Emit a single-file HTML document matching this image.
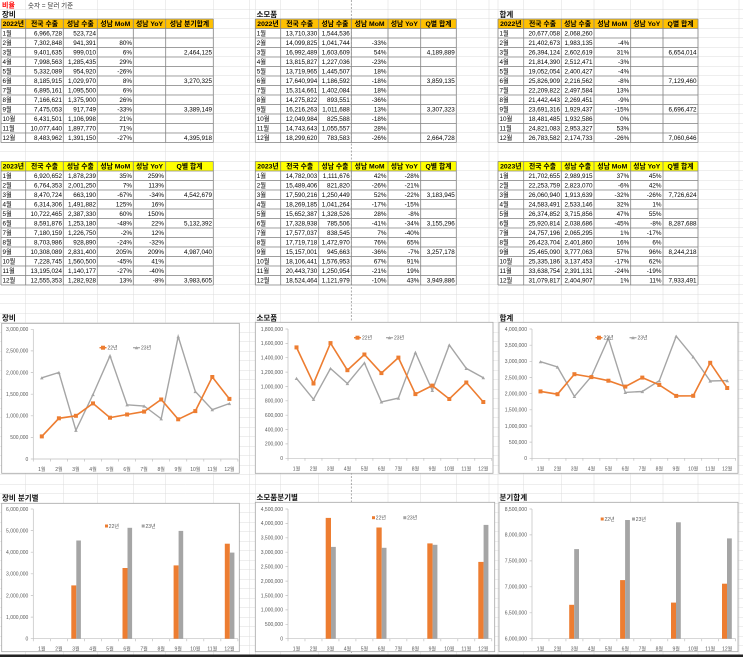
<!DOCTYPE html>
<html><head><meta charset="utf-8">
<style>
html,body{margin:0;padding:0;background:#fff;}
svg{display:block}
svg text{font-family:"Liberation Sans","Noto Sans CJK KR",sans-serif;}
.t text{font-size:6.3px;fill:#000}
.r{text-anchor:end}
.l{text-anchor:start}
.c{text-anchor:middle}
.hd text{font-weight:bold;font-size:6.8px;text-anchor:middle;fill:#000}
.ttl{font-weight:bold;font-size:7.5px;fill:#111}
.ax text{font-size:5px;fill:#595959}
.xl text{font-size:5px;fill:#595959;text-anchor:middle}
.lg{font-size:5px;fill:#595959}
</style></head>
<body>
<svg width="743" height="657" viewBox="0 0 743 657" xmlns="http://www.w3.org/2000/svg">
<defs>
<pattern id="rows" width="743" height="9.5" patternUnits="userSpaceOnUse">
<line x1="0" y1="9.25" x2="743" y2="9.25" stroke="#dcdcdc" stroke-width="0.5"/>
</pattern>
<marker id="mo" markerWidth="5" markerHeight="5" refX="2.5" refY="2.5" markerUnits="userSpaceOnUse"><rect x="0.5" y="0.5" width="4" height="4" fill="#ED7D31"/></marker>
<marker id="mg" markerWidth="5" markerHeight="5" refX="2.5" refY="2.5" markerUnits="userSpaceOnUse"><path d="M0.7 4.1L2.5 0.9L4.3 4.1Z" fill="#A5A5A5"/></marker>
<path id="gL" d="M0 0H212.3M0 9.5H212.3M0 19H212.3M0 28.5H212.3M0 38H212.3M0 47.5H212.3M0 57H212.3M0 66.5H212.3M0 76H212.3M0 85.5H212.3M0 95H212.3M0 104.5H212.3M0 114H212.3M0 123.5H212.3M0 0V123.5M24.7 0V123.5M62.3 0V123.5M96.3 0V123.5M132.3 0V123.5M164.7 0V123.5M212.3 0V123.5" fill="none" stroke="#858585" stroke-width="0.8"/>
<path id="gM" d="M0 0H201M0 9.5H201M0 19H201M0 28.5H201M0 38H201M0 47.5H201M0 57H201M0 66.5H201M0 76H201M0 85.5H201M0 95H201M0 104.5H201M0 114H201M0 123.5H201M0 0V123.5M25.4 0V123.5M63.4 0V123.5M96 0V123.5M132.7 0V123.5M165.4 0V123.5M201 0V123.5" fill="none" stroke="#858585" stroke-width="0.8"/>
<path id="gR" d="M0 0H200M0 9.5H200M0 19H200M0 28.5H200M0 38H200M0 47.5H200M0 57H200M0 66.5H200M0 76H200M0 85.5H200M0 95H200M0 104.5H200M0 114H200M0 123.5H200M0 0V123.5M25.7 0V123.5M63.3 0V123.5M96 0V123.5M132.7 0V123.5M165 0V123.5M200 0V123.5" fill="none" stroke="#858585" stroke-width="0.8"/>
</defs>

<!-- sheet grid -->
<rect width="743" height="657" fill="#fff"/>
<rect width="743" height="657" fill="url(#rows)"/>
<path d="M25.7 0V657M63.3 0V657M97.3 0V657M133.3 0V657M165.7 0V657M213.3 0V657M249.5 0V657M255.3 0V657M280.7 0V657M318.7 0V657M388 0V657M420.7 0V657M456.3 0V657M489 0V657M498 0V657M523.7 0V657M561.3 0V657M594 0V657M630.7 0V657M663 0V657M698 0V657M739 0V657" stroke="#dcdcdc" stroke-width="0.5" fill="none"/>
<path d="M351.3 0V657" stroke="#8a8a8a" stroke-width="0.7" stroke-dasharray="2,1.5" fill="none"/>

<!-- top labels -->
<text x="2" y="7.3" style="font-size:7px;font-weight:bold;fill:#ff0000">비율</text>
<text x="28" y="7.3" style="font-size:6.5px;fill:#333">숫자 = 달러 기준</text>
<text class="ttl" x="2" y="17.2">장비</text>
<text class="ttl" x="256.5" y="17.2">소모품</text>
<text class="ttl" x="499.5" y="17.2">합계</text>

<!-- ========== LEFT 2022 ========== -->
<g transform="translate(1,19)">
<rect width="212.3" height="9.5" fill="#FFC000"/>
<use href="#gL"/>
<g class="hd" transform="translate(0,7.2)"><text x="12.3">2022년</text><text x="43.5">전국 수출</text><text x="79.3">성남 수출</text><text x="114.3">성남 MoM</text><text x="148.5">성남 YoY</text><text x="188.5">성남 분기합계</text></g>
<g class="t r">
<g transform="translate(0,16.7)"><text class="l" x="1.5">1월</text><text x="61">6,966,728</text><text x="95">523,724</text></g>
<g transform="translate(0,26.2)"><text class="l" x="1.5">2월</text><text x="61">7,302,848</text><text x="95">941,391</text><text x="131">80%</text></g>
<g transform="translate(0,35.7)"><text class="l" x="1.5">3월</text><text x="61">9,401,635</text><text x="95">999,010</text><text x="131">6%</text><text x="211">2,464,125</text></g>
<g transform="translate(0,45.2)"><text class="l" x="1.5">4월</text><text x="61">7,998,563</text><text x="95">1,285,435</text><text x="131">29%</text></g>
<g transform="translate(0,54.7)"><text class="l" x="1.5">5월</text><text x="61">5,332,089</text><text x="95">954,920</text><text x="131">-26%</text></g>
<g transform="translate(0,64.2)"><text class="l" x="1.5">6월</text><text x="61">8,185,915</text><text x="95">1,029,970</text><text x="131">8%</text><text x="211">3,270,325</text></g>
<g transform="translate(0,73.7)"><text class="l" x="1.5">7월</text><text x="61">6,895,161</text><text x="95">1,095,500</text><text x="131">6%</text></g>
<g transform="translate(0,83.2)"><text class="l" x="1.5">8월</text><text x="61">7,166,621</text><text x="95">1,375,900</text><text x="131">26%</text></g>
<g transform="translate(0,92.7)"><text class="l" x="1.5">9월</text><text x="61">7,475,053</text><text x="95">917,749</text><text x="131">-33%</text><text x="211">3,389,149</text></g>
<g transform="translate(0,102.2)"><text class="l" x="1.5">10월</text><text x="61">6,431,501</text><text x="95">1,106,998</text><text x="131">21%</text></g>
<g transform="translate(0,111.7)"><text class="l" x="1.5">11월</text><text x="61">10,077,440</text><text x="95">1,897,770</text><text x="131">71%</text></g>
<g transform="translate(0,121.2)"><text class="l" x="1.5">12월</text><text x="61">8,483,962</text><text x="95">1,391,150</text><text x="131">-27%</text><text x="211">4,395,918</text></g>
</g>
</g>

<!-- ========== MIDDLE 2022 ========== -->
<g transform="translate(255.3,19)">
<rect width="201" height="9.5" fill="#FFC000"/>
<use href="#gM"/>
<g class="hd" transform="translate(0,7.2)"><text x="12.7">2022년</text><text x="44.4">전국 수출</text><text x="79.7">성남 수출</text><text x="114.3">성남 MoM</text><text x="149">성남 YoY</text><text x="183.2">Q별 합계</text></g>
<g class="t r">
<g transform="translate(0,16.7)"><text class="l" x="1.5">1월</text><text x="62">13,710,330</text><text x="94.5">1,544,536</text></g>
<g transform="translate(0,26.2)"><text class="l" x="1.5">2월</text><text x="62">14,099,825</text><text x="94.5">1,041,744</text><text x="131.2">-33%</text></g>
<g transform="translate(0,35.7)"><text class="l" x="1.5">3월</text><text x="62">16,992,489</text><text x="94.5">1,603,609</text><text x="131.2">54%</text><text x="199.5">4,189,889</text></g>
<g transform="translate(0,45.2)"><text class="l" x="1.5">4월</text><text x="62">13,815,827</text><text x="94.5">1,227,036</text><text x="131.2">-23%</text></g>
<g transform="translate(0,54.7)"><text class="l" x="1.5">5월</text><text x="62">13,719,965</text><text x="94.5">1,445,507</text><text x="131.2">18%</text></g>
<g transform="translate(0,64.2)"><text class="l" x="1.5">6월</text><text x="62">17,640,994</text><text x="94.5">1,186,592</text><text x="131.2">-18%</text><text x="199.5">3,859,135</text></g>
<g transform="translate(0,73.7)"><text class="l" x="1.5">7월</text><text x="62">15,314,661</text><text x="94.5">1,402,084</text><text x="131.2">18%</text></g>
<g transform="translate(0,83.2)"><text class="l" x="1.5">8월</text><text x="62">14,275,822</text><text x="94.5">893,551</text><text x="131.2">-36%</text></g>
<g transform="translate(0,92.7)"><text class="l" x="1.5">9월</text><text x="62">16,216,263</text><text x="94.5">1,011,688</text><text x="131.2">13%</text><text x="199.5">3,307,323</text></g>
<g transform="translate(0,102.2)"><text class="l" x="1.5">10월</text><text x="62">12,049,984</text><text x="94.5">825,588</text><text x="131.2">-18%</text></g>
<g transform="translate(0,111.7)"><text class="l" x="1.5">11월</text><text x="62">14,743,643</text><text x="94.5">1,055,557</text><text x="131.2">28%</text></g>
<g transform="translate(0,121.2)"><text class="l" x="1.5">12월</text><text x="62">18,299,620</text><text x="94.5">783,583</text><text x="131.2">-26%</text><text x="199.5">2,664,728</text></g>
</g>
</g>

<!-- ========== RIGHT 2022 ========== -->
<g transform="translate(498,19)">
<rect width="200" height="9.5" fill="#FFC000"/>
<use href="#gR"/>
<g class="hd" transform="translate(0,7.2)"><text x="12.8">2022년</text><text x="44.5">전국 수출</text><text x="79.6">성남 수출</text><text x="114.3">성남 MoM</text><text x="148.8">성남 YoY</text><text x="182.5">Q별 합계</text></g>
<g class="t r">
<g transform="translate(0,16.7)"><text class="l" x="1.5">1월</text><text x="62">20,677,058</text><text x="94.5">2,068,260</text></g>
<g transform="translate(0,26.2)"><text class="l" x="1.5">2월</text><text x="62">21,402,673</text><text x="94.5">1,983,135</text><text x="131.2">-4%</text></g>
<g transform="translate(0,35.7)"><text class="l" x="1.5">3월</text><text x="62">26,394,124</text><text x="94.5">2,602,619</text><text x="131.2">31%</text><text x="198.5">6,654,014</text></g>
<g transform="translate(0,45.2)"><text class="l" x="1.5">4월</text><text x="62">21,814,390</text><text x="94.5">2,512,471</text><text x="131.2">-3%</text></g>
<g transform="translate(0,54.7)"><text class="l" x="1.5">5월</text><text x="62">19,052,054</text><text x="94.5">2,400,427</text><text x="131.2">-4%</text></g>
<g transform="translate(0,64.2)"><text class="l" x="1.5">6월</text><text x="62">25,826,909</text><text x="94.5">2,216,562</text><text x="131.2">-8%</text><text x="198.5">7,129,460</text></g>
<g transform="translate(0,73.7)"><text class="l" x="1.5">7월</text><text x="62">22,209,822</text><text x="94.5">2,497,584</text><text x="131.2">13%</text></g>
<g transform="translate(0,83.2)"><text class="l" x="1.5">8월</text><text x="62">21,442,443</text><text x="94.5">2,269,451</text><text x="131.2">-9%</text></g>
<g transform="translate(0,92.7)"><text class="l" x="1.5">9월</text><text x="62">23,691,316</text><text x="94.5">1,929,437</text><text x="131.2">-15%</text><text x="198.5">6,696,472</text></g>
<g transform="translate(0,102.2)"><text class="l" x="1.5">10월</text><text x="62">18,481,485</text><text x="94.5">1,932,586</text><text x="131.2">0%</text></g>
<g transform="translate(0,111.7)"><text class="l" x="1.5">11월</text><text x="62">24,821,083</text><text x="94.5">2,953,327</text><text x="131.2">53%</text></g>
<g transform="translate(0,121.2)"><text class="l" x="1.5">12월</text><text x="62">26,783,582</text><text x="94.5">2,174,733</text><text x="131.2">-26%</text><text x="198.5">7,060,646</text></g>
</g>
</g>

<!-- ========== LEFT 2023 ========== -->
<g transform="translate(1,161.5)">
<rect width="212.3" height="9.5" fill="#FFFF00"/>
<use href="#gL"/>
<g class="hd" transform="translate(0,7.2)"><text x="12.3">2023년</text><text x="43.5">전국 수출</text><text x="79.3">성남 수출</text><text x="114.3">성남 MoM</text><text x="148.5">성남 YoY</text><text x="188.5">Q별 합계</text></g>
<g class="t r">
<g transform="translate(0,16.7)"><text class="l" x="1.5">1월</text><text x="61">6,920,652</text><text x="95">1,878,239</text><text x="131">35%</text><text x="163">259%</text></g>
<g transform="translate(0,26.2)"><text class="l" x="1.5">2월</text><text x="61">6,764,353</text><text x="95">2,001,250</text><text x="131">7%</text><text x="163">113%</text></g>
<g transform="translate(0,35.7)"><text class="l" x="1.5">3월</text><text x="61">8,470,724</text><text x="95">663,190</text><text x="131">-67%</text><text x="163">-34%</text><text x="211">4,542,679</text></g>
<g transform="translate(0,45.2)"><text class="l" x="1.5">4월</text><text x="61">6,314,306</text><text x="95">1,491,882</text><text x="131">125%</text><text x="163">16%</text></g>
<g transform="translate(0,54.7)"><text class="l" x="1.5">5월</text><text x="61">10,722,465</text><text x="95">2,387,330</text><text x="131">60%</text><text x="163">150%</text></g>
<g transform="translate(0,64.2)"><text class="l" x="1.5">6월</text><text x="61">8,591,876</text><text x="95">1,253,180</text><text x="131">-48%</text><text x="163">22%</text><text x="211">5,132,392</text></g>
<g transform="translate(0,73.7)"><text class="l" x="1.5">7월</text><text x="61">7,180,159</text><text x="95">1,226,750</text><text x="131">-2%</text><text x="163">12%</text></g>
<g transform="translate(0,83.2)"><text class="l" x="1.5">8월</text><text x="61">8,703,986</text><text x="95">928,890</text><text x="131">-24%</text><text x="163">-32%</text></g>
<g transform="translate(0,92.7)"><text class="l" x="1.5">9월</text><text x="61">10,308,089</text><text x="95">2,831,400</text><text x="131">205%</text><text x="163">209%</text><text x="211">4,987,040</text></g>
<g transform="translate(0,102.2)"><text class="l" x="1.5">10월</text><text x="61">7,228,745</text><text x="95">1,560,500</text><text x="131">-45%</text><text x="163">41%</text></g>
<g transform="translate(0,111.7)"><text class="l" x="1.5">11월</text><text x="61">13,195,024</text><text x="95">1,140,177</text><text x="131">-27%</text><text x="163">-40%</text></g>
<g transform="translate(0,121.2)"><text class="l" x="1.5">12월</text><text x="61">12,555,353</text><text x="95">1,282,928</text><text x="131">13%</text><text x="163">-8%</text><text x="211">3,983,605</text></g>
</g>
</g>

<!-- ========== MIDDLE 2023 ========== -->
<g transform="translate(255.3,161.5)">
<rect width="201" height="9.5" fill="#FFFF00"/>
<use href="#gM"/>
<g class="hd" transform="translate(0,7.2)"><text x="12.7">2023년</text><text x="44.4">전국 수출</text><text x="79.7">성남 수출</text><text x="114.3">성남 MoM</text><text x="149">성남 YoY</text><text x="183.2">Q별 합계</text></g>
<g class="t r">
<g transform="translate(0,16.7)"><text class="l" x="1.5">1월</text><text x="62">14,782,003</text><text x="94.5">1,111,676</text><text x="131.2">42%</text><text x="164">-28%</text></g>
<g transform="translate(0,26.2)"><text class="l" x="1.5">2월</text><text x="62">15,489,406</text><text x="94.5">821,820</text><text x="131.2">-26%</text><text x="164">-21%</text></g>
<g transform="translate(0,35.7)"><text class="l" x="1.5">3월</text><text x="62">17,590,216</text><text x="94.5">1,250,449</text><text x="131.2">52%</text><text x="164">-22%</text><text x="199.5">3,183,945</text></g>
<g transform="translate(0,45.2)"><text class="l" x="1.5">4월</text><text x="62">18,269,185</text><text x="94.5">1,041,264</text><text x="131.2">-17%</text><text x="164">-15%</text></g>
<g transform="translate(0,54.7)"><text class="l" x="1.5">5월</text><text x="62">15,652,387</text><text x="94.5">1,328,526</text><text x="131.2">28%</text><text x="164">-8%</text></g>
<g transform="translate(0,64.2)"><text class="l" x="1.5">6월</text><text x="62">17,328,938</text><text x="94.5">785,506</text><text x="131.2">-41%</text><text x="164">-34%</text><text x="199.5">3,155,296</text></g>
<g transform="translate(0,73.7)"><text class="l" x="1.5">7월</text><text x="62">17,577,037</text><text x="94.5">838,545</text><text x="131.2">7%</text><text x="164">-40%</text></g>
<g transform="translate(0,83.2)"><text class="l" x="1.5">8월</text><text x="62">17,719,718</text><text x="94.5">1,472,970</text><text x="131.2">76%</text><text x="164">65%</text></g>
<g transform="translate(0,92.7)"><text class="l" x="1.5">9월</text><text x="62">15,157,001</text><text x="94.5">945,663</text><text x="131.2">-36%</text><text x="164">-7%</text><text x="199.5">3,257,178</text></g>
<g transform="translate(0,102.2)"><text class="l" x="1.5">10월</text><text x="62">18,106,441</text><text x="94.5">1,576,953</text><text x="131.2">67%</text><text x="164">91%</text></g>
<g transform="translate(0,111.7)"><text class="l" x="1.5">11월</text><text x="62">20,443,730</text><text x="94.5">1,250,954</text><text x="131.2">-21%</text><text x="164">19%</text></g>
<g transform="translate(0,121.2)"><text class="l" x="1.5">12월</text><text x="62">18,524,464</text><text x="94.5">1,121,979</text><text x="131.2">-10%</text><text x="164">43%</text><text x="199.5">3,949,886</text></g>
</g>
</g>

<!-- ========== RIGHT 2023 ========== -->
<g transform="translate(498,161.5)">
<rect width="200" height="9.5" fill="#FFFF00"/>
<use href="#gR"/>
<g class="hd" transform="translate(0,7.2)"><text x="12.8">2023년</text><text x="44.5">전국 수출</text><text x="79.6">성남 수출</text><text x="114.3">성남 MoM</text><text x="148.8">성남 YoY</text><text x="182.5">Q별 합계</text></g>
<g class="t r">
<g transform="translate(0,16.7)"><text class="l" x="1.5">1월</text><text x="62">21,702,655</text><text x="94.5">2,989,915</text><text x="131.2">37%</text><text x="163.5">45%</text></g>
<g transform="translate(0,26.2)"><text class="l" x="1.5">2월</text><text x="62">22,253,759</text><text x="94.5">2,823,070</text><text x="131.2">-6%</text><text x="163.5">42%</text></g>
<g transform="translate(0,35.7)"><text class="l" x="1.5">3월</text><text x="62">26,060,940</text><text x="94.5">1,913,639</text><text x="131.2">-32%</text><text x="163.5">-26%</text><text x="198.5">7,726,624</text></g>
<g transform="translate(0,45.2)"><text class="l" x="1.5">4월</text><text x="62">24,583,491</text><text x="94.5">2,533,146</text><text x="131.2">32%</text><text x="163.5">1%</text></g>
<g transform="translate(0,54.7)"><text class="l" x="1.5">5월</text><text x="62">26,374,852</text><text x="94.5">3,715,856</text><text x="131.2">47%</text><text x="163.5">55%</text></g>
<g transform="translate(0,64.2)"><text class="l" x="1.5">6월</text><text x="62">25,920,814</text><text x="94.5">2,038,686</text><text x="131.2">-45%</text><text x="163.5">-8%</text><text x="198.5">8,287,688</text></g>
<g transform="translate(0,73.7)"><text class="l" x="1.5">7월</text><text x="62">24,757,196</text><text x="94.5">2,065,295</text><text x="131.2">1%</text><text x="163.5">-17%</text></g>
<g transform="translate(0,83.2)"><text class="l" x="1.5">8월</text><text x="62">26,423,704</text><text x="94.5">2,401,860</text><text x="131.2">16%</text><text x="163.5">6%</text></g>
<g transform="translate(0,92.7)"><text class="l" x="1.5">9월</text><text x="62">25,465,090</text><text x="94.5">3,777,063</text><text x="131.2">57%</text><text x="163.5">96%</text><text x="198.5">8,244,218</text></g>
<g transform="translate(0,102.2)"><text class="l" x="1.5">10월</text><text x="62">25,335,186</text><text x="94.5">3,137,453</text><text x="131.2">-17%</text><text x="163.5">62%</text></g>
<g transform="translate(0,111.7)"><text class="l" x="1.5">11월</text><text x="62">33,638,754</text><text x="94.5">2,391,131</text><text x="131.2">-24%</text><text x="163.5">-19%</text></g>
<g transform="translate(0,121.2)"><text class="l" x="1.5">12월</text><text x="62">31,079,817</text><text x="94.5">2,404,907</text><text x="131.2">1%</text><text x="163.5">11%</text><text x="198.5">7,933,491</text></g>
</g>
</g>

<!-- ========== LINE CHART TITLES ========== -->
<text class="ttl" x="2" y="320.3">장비</text>
<text class="ttl" x="256.5" y="320.3">소모품</text>
<text class="ttl" x="499.5" y="320.3">합계</text>

<!-- ========== LINE CHART LEFT ========== -->
<rect x="1.7" y="323.3" width="237.6" height="150" fill="#fff" stroke="#a6a6a6" stroke-width="0.8"/>
<path d="M33.3 329.3V459H237.9M30.8 459H33.3M30.8 437.4H33.3M30.8 415.8H33.3M30.8 394.2H33.3M30.8 372.5H33.3M30.8 350.9H33.3M30.8 329.3H33.3M33.3 459V461.5M50.35 459V461.5M67.4 459V461.5M84.45 459V461.5M101.5 459V461.5M118.55 459V461.5M135.6 459V461.5M152.65 459V461.5M169.7 459V461.5M186.75 459V461.5M203.8 459V461.5M220.85 459V461.5M237.9 459V461.5" stroke="#bfbfbf" stroke-width="0.7" fill="none"/>
<g class="ax r">
<text x="28.3" y="460.8">0</text><text x="28.3" y="439.2">500,000</text><text x="28.3" y="417.6">1,000,000</text><text x="28.3" y="396">1,500,000</text><text x="28.3" y="374.3">2,000,000</text><text x="28.3" y="352.7">2,500,000</text><text x="28.3" y="331.1">3,000,000</text>
</g>
<g class="xl">
<text x="41.8" y="471.2">1월</text><text x="58.9" y="471.2">2월</text><text x="75.9" y="471.2">3월</text><text x="93" y="471.2">4월</text><text x="110" y="471.2">5월</text><text x="127.1" y="471.2">6월</text><text x="144.1" y="471.2">7월</text><text x="161.2" y="471.2">8월</text><text x="178.2" y="471.2">9월</text><text x="195.3" y="471.2">10월</text><text x="212.3" y="471.2">11월</text><text x="229.4" y="471.2">12월</text>
</g>
<polyline points="41.8,377.8 58.9,372.5 75.9,430.3 93,394.5 110,355.8 127.1,404.8 144.1,406 161.2,418.8 178.2,336.6 195.3,391.5 212.3,409.7 229.4,403.5" fill="none" stroke="#A5A5A5" stroke-width="1.4" marker-start="url(#mg)" marker-mid="url(#mg)" marker-end="url(#mg)"/>
<polyline points="41.8,436.4 58.9,418.3 75.9,415.8 93,403.4 110,417.7 127.1,414.5 144.1,411.6 161.2,399.5 178.2,419.3 195.3,411.1 212.3,377 229.4,398.9" fill="none" stroke="#ED7D31" stroke-width="1.6" marker-start="url(#mo)" marker-mid="url(#mo)" marker-end="url(#mo)"/>
<path d="M99.5 347.7H103H106.5" stroke="#ED7D31" stroke-width="1.4" fill="none" marker-mid="url(#mo)"/>
<text class="lg" x="107.5" y="349.5">22년</text>
<path d="M133 347.7H136.5H140" stroke="#A5A5A5" stroke-width="1.2" fill="none" marker-mid="url(#mg)"/>
<text class="lg" x="141" y="349.5">23년</text>

<!-- ========== LINE CHART MIDDLE ========== -->
<rect x="255.3" y="322.3" width="237.7" height="151" fill="#fff" stroke="#a6a6a6" stroke-width="0.8"/>
<path d="M288 329V458.3H491.8M285.5 458.3H288M285.5 443.9H288M285.5 429.6H288M285.5 415.2H288M285.5 400.8H288M285.5 386.5H288M285.5 372.1H288M285.5 357.7H288M285.5 343.4H288M285.5 329H288M288 458.3V460.8M304.98 458.3V460.8M321.96 458.3V460.8M338.94 458.3V460.8M355.92 458.3V460.8M372.9 458.3V460.8M389.88 458.3V460.8M406.86 458.3V460.8M423.84 458.3V460.8M440.82 458.3V460.8M457.8 458.3V460.8M474.78 458.3V460.8M491.76 458.3V460.8" stroke="#bfbfbf" stroke-width="0.7" fill="none"/>
<g class="ax r">
<text x="283" y="460.1">0</text><text x="283" y="445.7">200,000</text><text x="283" y="431.4">400,000</text><text x="283" y="417">600,000</text><text x="283" y="402.6">800,000</text><text x="283" y="388.3">1,000,000</text><text x="283" y="373.9">1,200,000</text><text x="283" y="359.5">1,400,000</text><text x="283" y="345.2">1,600,000</text><text x="283" y="330.8">1,800,000</text>
</g>
<g class="xl">
<text x="296.5" y="470.5">1월</text><text x="313.5" y="470.5">2월</text><text x="330.5" y="470.5">3월</text><text x="347.4" y="470.5">4월</text><text x="364.4" y="470.5">5월</text><text x="381.4" y="470.5">6월</text><text x="398.4" y="470.5">7월</text><text x="415.4" y="470.5">8월</text><text x="432.3" y="470.5">9월</text><text x="449.3" y="470.5">10월</text><text x="466.3" y="470.5">11월</text><text x="483.3" y="470.5">12월</text>
</g>
<polyline points="296.5,378.4 313.5,399.3 330.5,368.5 347.4,383.5 364.4,362.9 381.4,401.9 398.4,398.1 415.4,352.5 432.3,390.4 449.3,345 466.3,368.4 483.3,377.7" fill="none" stroke="#A5A5A5" stroke-width="1.4" marker-start="url(#mg)" marker-mid="url(#mg)" marker-end="url(#mg)"/>
<polyline points="296.5,347.4 313.5,383.5 330.5,343.1 347.4,370.2 364.4,354.5 381.4,373.1 398.4,357.6 415.4,394.1 432.3,385.6 449.3,399 466.3,382.5 483.3,402" fill="none" stroke="#ED7D31" stroke-width="1.6" marker-start="url(#mo)" marker-mid="url(#mo)" marker-end="url(#mo)"/>
<path d="M354 337.7H357.5H361" stroke="#ED7D31" stroke-width="1.4" fill="none" marker-mid="url(#mo)"/>
<text class="lg" x="362" y="339.5">22년</text>
<path d="M386 337.7H389.5H393" stroke="#A5A5A5" stroke-width="1.2" fill="none" marker-mid="url(#mg)"/>
<text class="lg" x="394" y="339.5">23년</text>

<!-- ========== LINE CHART RIGHT ========== -->
<rect x="499" y="322.3" width="239" height="151" fill="#fff" stroke="#a6a6a6" stroke-width="0.8"/>
<path d="M532 329V458.3H735.6M529.5 458.3H532M529.5 442.1H532M529.5 426H532M529.5 409.8H532M529.5 393.7H532M529.5 377.5H532M529.5 361.3H532M529.5 345.2H532M529.5 329H532M532 458.3V460.8M548.97 458.3V460.8M565.94 458.3V460.8M582.91 458.3V460.8M599.88 458.3V460.8M616.85 458.3V460.8M633.82 458.3V460.8M650.79 458.3V460.8M667.76 458.3V460.8M684.73 458.3V460.8M701.7 458.3V460.8M718.67 458.3V460.8M735.64 458.3V460.8" stroke="#bfbfbf" stroke-width="0.7" fill="none"/>
<g class="ax r">
<text x="527" y="460.1">0</text><text x="527" y="443.9">500,000</text><text x="527" y="427.8">1,000,000</text><text x="527" y="411.6">1,500,000</text><text x="527" y="395.5">2,000,000</text><text x="527" y="379.3">2,500,000</text><text x="527" y="363.1">3,000,000</text><text x="527" y="347">3,500,000</text><text x="527" y="330.8">4,000,000</text>
</g>
<g class="xl">
<text x="540.5" y="470.5">1월</text><text x="557.5" y="470.5">2월</text><text x="574.4" y="470.5">3월</text><text x="591.4" y="470.5">4월</text><text x="608.4" y="470.5">5월</text><text x="625.3" y="470.5">6월</text><text x="642.3" y="470.5">7월</text><text x="659.3" y="470.5">8월</text><text x="676.2" y="470.5">9월</text><text x="693.2" y="470.5">10월</text><text x="710.2" y="470.5">11월</text><text x="727.2" y="470.5">12월</text>
</g>
<polyline points="540.5,361.7 557.5,367 574.4,396.4 591.4,376.4 608.4,338.2 625.3,392.4 642.3,391.5 659.3,380.7 676.2,336.2 693.2,356.9 710.2,381 727.2,380.6" fill="none" stroke="#A5A5A5" stroke-width="1.4" marker-start="url(#mg)" marker-mid="url(#mg)" marker-end="url(#mg)"/>
<polyline points="540.5,391.4 557.5,394.2 574.4,374.2 591.4,377.1 608.4,380.7 625.3,386.6 642.3,377.6 659.3,384.9 676.2,395.9 693.2,395.8 710.2,362.8 727.2,388" fill="none" stroke="#ED7D31" stroke-width="1.6" marker-start="url(#mo)" marker-mid="url(#mo)" marker-end="url(#mo)"/>
<path d="M595.5 337.7H599H602.5" stroke="#ED7D31" stroke-width="1.4" fill="none" marker-mid="url(#mo)"/>
<text class="lg" x="603.5" y="339.5">22년</text>
<path d="M629.5 337.7H633H636.5" stroke="#A5A5A5" stroke-width="1.2" fill="none" marker-mid="url(#mg)"/>
<text class="lg" x="637.5" y="339.5">23년</text>

<!-- ========== BAR CHART TITLES ========== -->
<text class="ttl" x="2" y="500.5">장비 분기별</text>
<text class="ttl" x="256.5" y="500">소모품분기별</text>
<text class="ttl" x="499.5" y="500">분기합계</text>

<!-- ========== BAR CHART LEFT ========== -->
<rect x="1.7" y="503.3" width="237.6" height="148.4" fill="#fff" stroke="#a6a6a6" stroke-width="0.8"/>
<path d="M33.3 509V638.7H237.9M30.8 638.7H33.3M30.8 617.1H33.3M30.8 595.5H33.3M30.8 573.8H33.3M30.8 552.2H33.3M30.8 530.6H33.3M30.8 509H33.3M33.3 638.7V641.2M50.35 638.7V641.2M67.4 638.7V641.2M84.45 638.7V641.2M101.5 638.7V641.2M118.55 638.7V641.2M135.6 638.7V641.2M152.65 638.7V641.2M169.7 638.7V641.2M186.75 638.7V641.2M203.8 638.7V641.2M220.85 638.7V641.2M237.9 638.7V641.2" stroke="#bfbfbf" stroke-width="0.7" fill="none"/>
<g class="ax r">
<text x="28.3" y="640.5">0</text><text x="28.3" y="618.9">1,000,000</text><text x="28.3" y="597.3">2,000,000</text><text x="28.3" y="575.6">3,000,000</text><text x="28.3" y="554">4,000,000</text><text x="28.3" y="532.4">5,000,000</text><text x="28.3" y="510.8">6,000,000</text>
</g>
<g class="xl">
<text x="41.8" y="650.5">1월</text><text x="58.9" y="650.5">2월</text><text x="75.9" y="650.5">3월</text><text x="93" y="650.5">4월</text><text x="110" y="650.5">5월</text><text x="127.1" y="650.5">6월</text><text x="144.1" y="650.5">7월</text><text x="161.2" y="650.5">8월</text><text x="178.2" y="650.5">9월</text><text x="195.3" y="650.5">10월</text><text x="212.3" y="650.5">11월</text><text x="229.4" y="650.5">12월</text>
</g>
<g fill="#ED7D31">
<rect x="71.3" y="585.4" width="5" height="53.3"/><rect x="122.5" y="568" width="5" height="70.7"/><rect x="173.6" y="565.4" width="5" height="73.3"/><rect x="224.8" y="543.7" width="5" height="95"/>
</g>
<g fill="#A5A5A5">
<rect x="76.3" y="540.5" width="4.6" height="98.2"/><rect x="127.5" y="527.8" width="4.6" height="110.9"/><rect x="178.6" y="530.9" width="4.6" height="107.8"/><rect x="229.8" y="552.6" width="4.6" height="86.1"/>
</g>
<rect x="105" y="524.5" width="3" height="3" fill="#ED7D31"/><text class="lg" x="108.8" y="528">22년</text>
<rect x="141.7" y="524.5" width="3" height="3" fill="#A5A5A5"/><text class="lg" x="145.5" y="528">23년</text>

<!-- ========== BAR CHART MIDDLE ========== -->
<rect x="255.3" y="502.3" width="239.4" height="149.4" fill="#fff" stroke="#a6a6a6" stroke-width="0.8"/>
<path d="M288 509V638.7H491.8M285.5 638.7H288M285.5 624.3H288M285.5 609.9H288M285.5 595.5H288M285.5 581.1H288M285.5 566.6H288M285.5 552.2H288M285.5 537.8H288M285.5 523.4H288M285.5 509H288M288 638.7V641.2M304.98 638.7V641.2M321.96 638.7V641.2M338.94 638.7V641.2M355.92 638.7V641.2M372.9 638.7V641.2M389.88 638.7V641.2M406.86 638.7V641.2M423.84 638.7V641.2M440.82 638.7V641.2M457.8 638.7V641.2M474.78 638.7V641.2M491.76 638.7V641.2" stroke="#bfbfbf" stroke-width="0.7" fill="none"/>
<g class="ax r">
<text x="283" y="640.5">0</text><text x="283" y="626.1">500,000</text><text x="283" y="611.7">1,000,000</text><text x="283" y="597.3">1,500,000</text><text x="283" y="582.9">2,000,000</text><text x="283" y="568.4">2,500,000</text><text x="283" y="554">3,000,000</text><text x="283" y="539.6">3,500,000</text><text x="283" y="525.2">4,000,000</text><text x="283" y="510.8">4,500,000</text>
</g>
<g class="xl">
<text x="296.5" y="650.5">1월</text><text x="313.5" y="650.5">2월</text><text x="330.5" y="650.5">3월</text><text x="347.4" y="650.5">4월</text><text x="364.4" y="650.5">5월</text><text x="381.4" y="650.5">6월</text><text x="398.4" y="650.5">7월</text><text x="415.4" y="650.5">8월</text><text x="432.3" y="650.5">9월</text><text x="449.3" y="650.5">10월</text><text x="466.3" y="650.5">11월</text><text x="483.3" y="650.5">12월</text>
</g>
<g fill="#ED7D31">
<rect x="325.7" y="517.9" width="5.3" height="120.8"/><rect x="376.4" y="527.5" width="5.3" height="111.2"/><rect x="427.3" y="543.4" width="5.3" height="95.3"/><rect x="478.3" y="561.9" width="5.3" height="76.8"/>
</g>
<g fill="#A5A5A5">
<rect x="331" y="546.9" width="4.8" height="91.8"/><rect x="381.7" y="547.8" width="4.8" height="90.9"/><rect x="432.6" y="544.8" width="4.8" height="93.9"/><rect x="483.6" y="524.9" width="4.8" height="113.8"/>
</g>
<rect x="372" y="516.2" width="3" height="3" fill="#ED7D31"/><text class="lg" x="375.8" y="519.7">22년</text>
<rect x="403.3" y="516.2" width="3" height="3" fill="#A5A5A5"/><text class="lg" x="407.1" y="519.7">23년</text>

<!-- ========== BAR CHART RIGHT ========== -->
<rect x="499" y="502.3" width="239" height="149.4" fill="#fff" stroke="#a6a6a6" stroke-width="0.8"/>
<path d="M532 509V638.7H735.6M529.5 638.7H532M529.5 612.8H532M529.5 586.8H532M529.5 560.9H532M529.5 534.9H532M529.5 509H532M532 638.7V641.2M548.97 638.7V641.2M565.94 638.7V641.2M582.91 638.7V641.2M599.88 638.7V641.2M616.85 638.7V641.2M633.82 638.7V641.2M650.79 638.7V641.2M667.76 638.7V641.2M684.73 638.7V641.2M701.7 638.7V641.2M718.67 638.7V641.2M735.64 638.7V641.2" stroke="#bfbfbf" stroke-width="0.7" fill="none"/>
<g class="ax r">
<text x="527" y="640.5">6,000,000</text><text x="527" y="614.6">6,500,000</text><text x="527" y="588.6">7,000,000</text><text x="527" y="562.7">7,500,000</text><text x="527" y="536.7">8,000,000</text><text x="527" y="510.8">8,500,000</text>
</g>
<g class="xl">
<text x="540.5" y="650.5">1월</text><text x="557.5" y="650.5">2월</text><text x="574.4" y="650.5">3월</text><text x="591.4" y="650.5">4월</text><text x="608.4" y="650.5">5월</text><text x="625.3" y="650.5">6월</text><text x="642.3" y="650.5">7월</text><text x="659.3" y="650.5">8월</text><text x="676.2" y="650.5">9월</text><text x="693.2" y="650.5">10월</text><text x="710.2" y="650.5">11월</text><text x="727.2" y="650.5">12월</text>
</g>
<g fill="#ED7D31">
<rect x="569.2" y="604.8" width="5" height="33.9"/><rect x="620.1" y="580.1" width="5" height="58.6"/><rect x="671" y="602.6" width="5" height="36.1"/><rect x="722" y="583.7" width="5" height="55"/>
</g>
<g fill="#A5A5A5">
<rect x="574.2" y="549.1" width="4.8" height="89.6"/><rect x="625.1" y="520" width="4.8" height="118.7"/><rect x="676" y="522.3" width="4.8" height="116.4"/><rect x="727" y="538.4" width="4.8" height="100.3"/>
</g>
<rect x="600.7" y="517.5" width="3" height="3" fill="#ED7D31"/><text class="lg" x="604.5" y="521">22년</text>
<rect x="632" y="517.5" width="3" height="3" fill="#A5A5A5"/><text class="lg" x="635.8" y="521">23년</text>

<!-- bottom dark band -->
<rect x="0" y="654.5" width="743" height="2.5" fill="#222"/>
</svg>
</body></html>
